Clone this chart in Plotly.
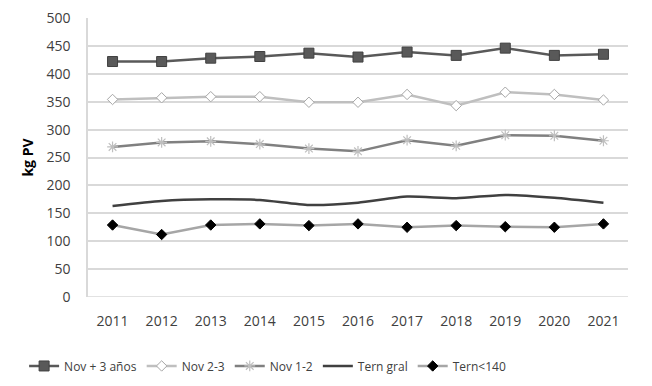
import plotly.graph_objects as go

years = ["2011", "2012", "2013", "2014", "2015", "2016", "2017", "2018", "2019", "2020", "2021"]
nov_3 = [422, 422, 428, 431, 437, 430, 439, 433, 446, 433, 435]
nov_23 = [354, 357, 359, 359, 349, 349, 363, 343, 367, 363, 353]
nov_12 = [269, 277, 279, 274, 266, 261, 281, 271, 290, 289, 280]
tern_gral = [163, 172, 175, 174, 165, 169, 180, 177, 183, 178, 169]
tern_140 = [129, 112, 129, 131, 128, 131, 125, 128, 126, 125, 131]
y_ticks = [0, 50, 100, 150, 200, 250, 300, 350, 400, 450, 500]

fig = go.Figure()
fig.add_trace(go.Scatter(x=years, y=nov_3, name="Nov + 3 años", mode="lines+markers",
                         line=dict(color="#595959", width=2.5),
                         marker=dict(symbol="square", size=10, color="#595959",
                                     line=dict(color="#404040", width=1))))
fig.add_trace(go.Scatter(x=years, y=nov_23, name="Nov 2-3", mode="lines+markers",
                         line=dict(color="#BFBFBF", width=2.5),
                         marker=dict(symbol="diamond", size=8, color="white",
                                     line=dict(color="#A6A6A6", width=1))))
fig.add_trace(go.Scatter(x=years, y=nov_12, name="Nov 1-2", mode="lines+markers",
                         line=dict(color="#808080", width=2.5),
                         marker=dict(symbol="asterisk-open", size=9, color="#BFBFBF",
                                     line=dict(color="#BFBFBF", width=1.2))))
fig.add_trace(go.Scatter(x=years, y=tern_gral, name="Tern gral", mode="lines",
                         line=dict(color="#404040", width=2.5, shape="spline", smoothing=0.6)))
fig.add_trace(go.Scatter(x=years, y=tern_140, name="Tern<140", mode="lines+markers",
                         line=dict(color="#A6A6A6", width=2.5),
                         marker=dict(symbol="diamond", size=8, color="black",
                                     line=dict(color="black", width=1))))

fig.update_layout(
    width=644, height=378,
    margin=dict(l=80, r=24, t=10, b=89, autoexpand=False),
    paper_bgcolor="white", plot_bgcolor="white",
    font=dict(family="Open Sans, Noto Sans, sans-serif", color="#404040", size=13),
    showlegend=True,
    legend=dict(orientation="h", xref="container", yref="container",
                x=0.025, xanchor="left", y=0.053, yanchor="middle",
                font=dict(size=12, color="#404040"), tracegroupgap=0),
    xaxis=dict(type="category", showgrid=False, showline=False, zeroline=False,
               ticks="outside", ticklen=11, tickcolor="rgba(0,0,0,0)",
               tickfont=dict(size=14, color="#404040"), range=[-0.5, 10.5],
               automargin=False),
    yaxis=dict(range=[0, 500], tickvals=y_ticks, showgrid=True, gridcolor="#D9D9D9",
               gridwidth=1.5, zeroline=False, showline=True, linecolor="#D9D9D9",
               linewidth=1.5, ticks="outside", ticklen=13, tickcolor="rgba(0,0,0,0)",
               tickfont=dict(size=14, color="#404040"), ticklabeloverflow="allow",
               automargin=False,
               title=dict(text="<b>kg PV</b>", font=dict(size=14, color="black"), standoff=10)),
)
fig.add_shape(type="line", xref="paper", yref="y", x0=0, x1=1, y0=0, y1=0,
              line=dict(color="#D9D9D9", width=1.5))
fig.write_html("out.html")
